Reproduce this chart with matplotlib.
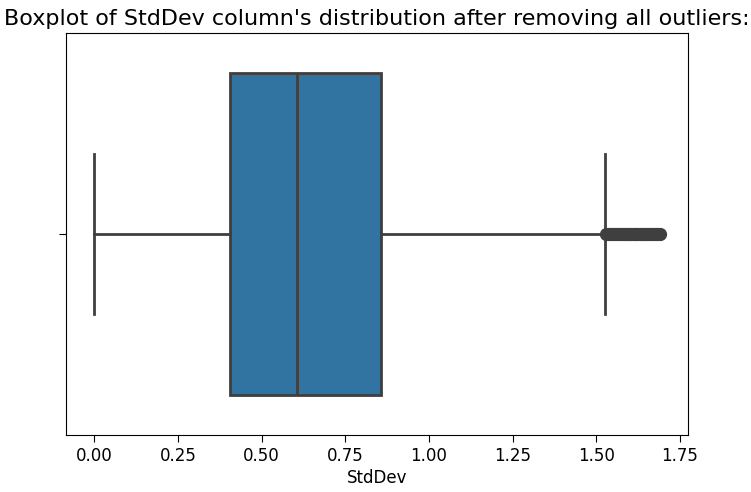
import matplotlib
matplotlib.use("Agg")
import matplotlib.pyplot as plt

# summary of the StdDev column
whisker_low = 0.0
q1 = 0.405
median = 0.607
q3 = 0.858
whisker_high = 1.525
outliers = [1.530, 1.535, 1.540, 1.545, 1.550, 1.555, 1.560, 1.565, 1.570,
            1.575, 1.580, 1.585, 1.590, 1.595, 1.600, 1.605, 1.610, 1.615,
            1.620, 1.625, 1.630, 1.635, 1.640, 1.645, 1.650, 1.655, 1.660,
            1.665, 1.670, 1.675, 1.680, 1.685, 1.690]

box_color = "#3274a1"
line_color = "#3f3f3f"

stats = [{
    "whislo": whisker_low, "q1": q1, "med": median, "q3": q3,
    "whishi": whisker_high, "fliers": outliers,
}]

fig, ax = plt.subplots(figsize=(7.51, 4.92), dpi=100)
fig.subplots_adjust(left=66 / 751, right=688 / 751, top=1 - 33 / 492, bottom=1 - 435 / 492)

lw = 2.0
ax.bxp(stats, positions=[0], vert=False, widths=0.8, patch_artist=True,
       boxprops=dict(facecolor=box_color, edgecolor=line_color, linewidth=lw),
       medianprops=dict(color=line_color, linewidth=lw),
       whiskerprops=dict(color=line_color, linewidth=lw),
       capprops=dict(color=line_color, linewidth=lw),
       flierprops=dict(marker="o", markerfacecolor=line_color, markeredgecolor=line_color,
                       markersize=8.5, linestyle="none"),
       capwidths=0.4)

ax.set_ylim(0.5, -0.5)
ax.set_xlim(-0.0845, 1.7745)
ax.set_yticks([0])
ax.set_yticklabels([""])
ax.set_xticks([0, 0.25, 0.5, 0.75, 1.0, 1.25, 1.5, 1.75])
ax.tick_params(labelsize=12, length=5)
ax.set_xlabel("StdDev", fontsize=12, labelpad=3)
ax.set_title("Boxplot of StdDev column's distribution after removing all outliers:",
             fontsize=16, pad=6)

fig.savefig("out.png", dpi=100)
